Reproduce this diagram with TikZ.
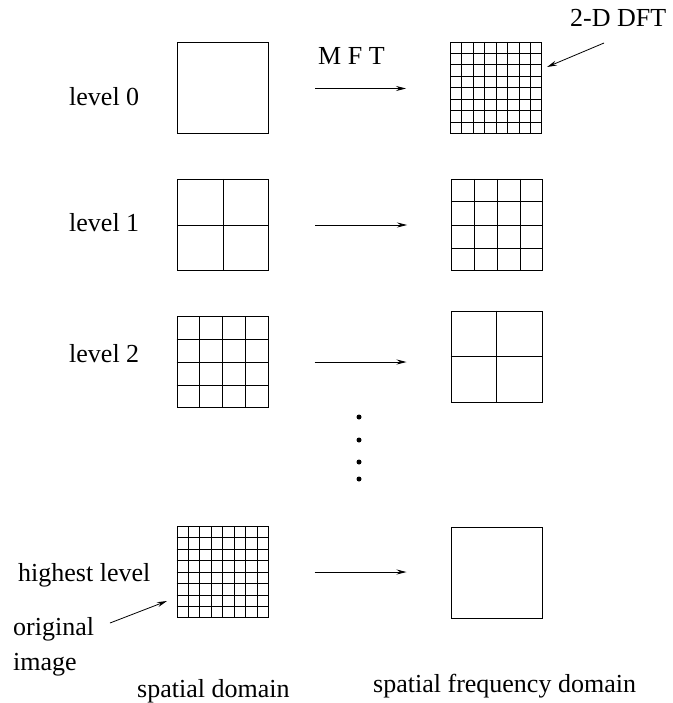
\documentclass[tikz,border=0pt]{standalone}
\usepackage{fontspec}
\setmainfont{Liberation Serif}
\usetikzlibrary{arrows.meta,calc}

\tikzset{
  x=1pt, y=-1pt,
  cell/.style={draw, line width=1pt, inner sep=0pt, minimum width=91pt, minimum height=91pt},
  label/.style={inner sep=0pt, anchor=base west, font=\fontsize{26}{30}\selectfont},
  flow/.style={line width=0.8pt, -{Stealth[length=10pt,width=5pt,inset=3.5pt]}},
  level/.style={flow, shorten <=46pt, shorten >=44pt},
  gridline/.style={line width=1pt},
  dot/.style={circle, fill, inner sep=0pt, minimum size=5pt}
}

% subdivide a square node into n x n cells
\newcommand{\cellgrid}[2]{%
  \pgfmathtruncatemacro{\lastcut}{#2-1}%
  \foreach \k in {1,...,\lastcut} {
    \draw[gridline] ($(#1.north west)!\k/#2!(#1.north east)$) -- ($(#1.south west)!\k/#2!(#1.south east)$);
    \draw[gridline] ($(#1.north west)!\k/#2!(#1.south west)$) -- ($(#1.north east)!\k/#2!(#1.south east)$);
  }%
}

\begin{document}
\begin{tikzpicture}
\useasboundingbox (0,0) rectangle (672,703);

% spatial domain squares
\node[cell] (L0) at (223,88.5) {};
\node[cell] (L1) at (223,225) {};
\node[cell] (L2) at (222.5,362) {};
\node[cell] (L3) at (222.5,572) {};
\cellgrid{L1}{2}
\cellgrid{L2}{4}
\cellgrid{L3}{8}

% spatial frequency domain squares
\node[cell] (R0) at (496,88) {};
\node[cell] (R1) at (497,225) {};
\node[cell] (R2) at (496.5,356.5) {};
\node[cell] (R3) at (496.5,572.5) {};
\cellgrid{R0}{8}
\cellgrid{R1}{4}
\cellgrid{R2}{2}

% transforms between the domains
\draw[level] (L0.east) -- (L0.east -| R0.west);
\draw[level] (L1.east) -- (L1.east -| R1.west);
\draw[level] (L2.east) -- (L2.east -| R2.west);
\draw[level] (L3.east) -- (L3.east -| R3.west);

% vertical ellipsis
\node[dot] (d1) at (359,417) {};
\node[dot] (d2) at (359,440) {};
\node[dot] (d3) at (359,462) {};
\node[dot] (d4) at (359,479) {};

% labels
\node[label] (mft) at (318,65) {M F T};
\node[label] (dft) at (570,27) {2-D DFT};
\node[label] (lv0) at (69,106) {level 0};
\node[label] (lv1) at (69,231) {level 1};
\node[label] (lv2) at (69,362) {level 2};
\node[label] (lvh) at (18,581) {highest level};
\node[label] (orig) at (13,635) {original};
\node[label] (img) at (13,670) {image};
\node[label] (sdom) at (137,697) {spatial domain};
\node[label] (fdom) at (373,692) {spatial frequency domain};

% pointers
\coordinate (dftTail) at (604,43);
\coordinate (dftHead) at (547,67);
\draw[flow] (dftTail) -- (dftHead);
\coordinate (origTail) at (110,623);
\coordinate (origHead) at (167,601);
\draw[flow] (origTail) -- (origHead);
\end{tikzpicture}
\end{document}
